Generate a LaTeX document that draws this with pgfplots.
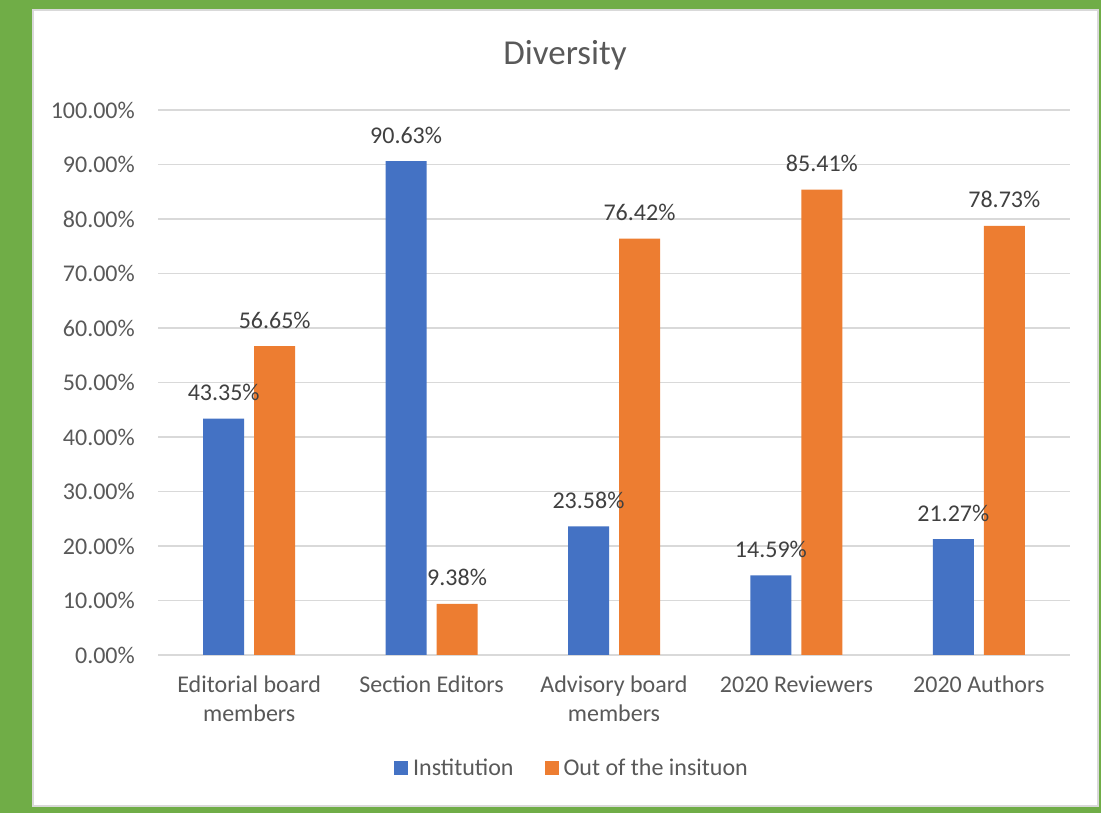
\documentclass[border=0pt]{standalone}
\usepackage{fontspec}
\setmainfont{Carlito}
\usepackage{pgfplots}
\pgfplotsset{compat=1.18}
\definecolor{inst}{HTML}{4472C4}
\definecolor{outs}{HTML}{ED7D31}
\definecolor{gridc}{HTML}{D9D9D9}
\definecolor{txt}{HTML}{595959}
\definecolor{lbl}{HTML}{404040}
\definecolor{frame}{HTML}{70AD47}

\begin{document}
\begin{tikzpicture}[x=1pt,y=1pt]
\path[use as bounding box] (0,0) rectangle (1101,813);
\fill[frame] (0,0) rectangle (1101,813);
\filldraw[fill=white, draw=gridc, line width=1.5pt] (33,7) rectangle (1098,803);
\node[anchor=base, text=txt, font=\fontsize{35}{42}\selectfont, inner sep=0pt] at (565,748) {Diversity};
\begin{axis}[
    at={(158pt,158pt)}, anchor=south west,
    scale only axis, width=912pt, height=545pt,
    ybar=10pt, bar width=41pt,
    xmin=-0.5, xmax=4.5, ymin=0, ymax=100,
    enlargelimits=false,
    axis line style={draw=none},
    major tick length=0pt,
    ymajorgrids, grid style={gridc, line width=1.2pt},
    ytick={0,10,...,100},
    /pgf/number format/assume math mode=true,
    yticklabel={\pgfmathprintnumber[fixed,fixed zerofill,precision=2]{\tick}\%},
    yticklabel style={anchor=east, inner sep=0pt, xshift=-23pt, text=txt, font=\fontsize{24}{29}\selectfont},
    xtick={0,...,4},
    xticklabels={Editorial board\\members, Section Editors, Advisory board\\members, 2020 Reviewers, 2020 Authors},
    xticklabel style={align=center, anchor=north, inner sep=0pt, yshift=-21pt, text=txt, font=\fontsize{24}{29}\selectfont},
    nodes near coords={\pgfmathprintnumber[fixed,fixed zerofill,precision=2]{\pgfplotspointmeta}\%},
    every node near coord/.append style={anchor=base, inner sep=0pt, yshift=18pt, text=lbl, font=\fontsize{24}{29}\selectfont},
    legend image code/.code={\fill[#1] (0pt,-7pt) rectangle (14pt,7pt);},
    legend columns=2,
    legend style={at={(0.4529,-0.2073)}, anchor=center, draw=none, fill=none,
        font=\fontsize{24}{29}\selectfont, text=txt,
        nodes={inner sep=0pt},
        /tikz/every odd column/.append style={column sep=5pt},
        /tikz/every even column/.append style={column sep=31pt}},
]
\addplot[fill=inst, draw=none] coordinates {(0,43.35) (1,90.63) (2,23.58) (3,14.59) (4,21.27)};
\addlegendentry{Institution}
\addplot[fill=outs, draw=none] coordinates {(0,56.65) (1,9.38) (2,76.42) (3,85.41) (4,78.73)};
\addlegendentry{Out of the insituon}
\end{axis}
\end{tikzpicture}
\end{document}
